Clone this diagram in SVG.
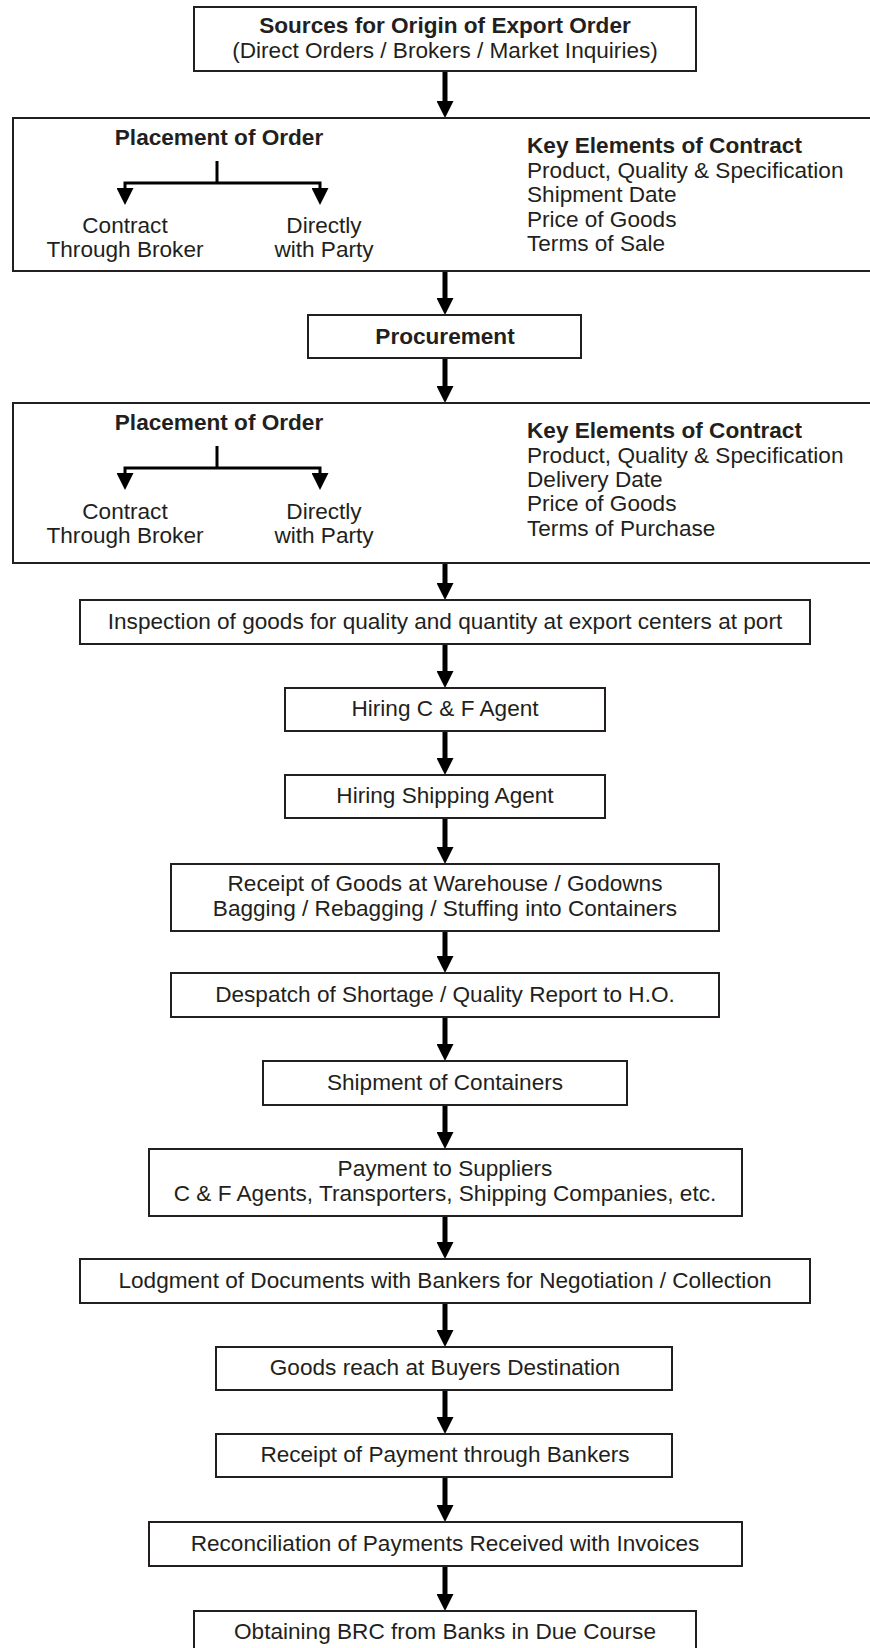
<svg xmlns="http://www.w3.org/2000/svg" width="870" height="1648" viewBox="0 0 870 1648">
<defs>
<style>
.box{fill:#fff;stroke:#231f20;stroke-width:2}
.t{font-family:"Liberation Sans",Arial,sans-serif;font-size:22.6px;fill:#231f20}
.c{text-anchor:middle}
.b{font-weight:bold}
.flow{fill:none;stroke:#000;stroke-width:5;marker-end:url(#ah)}
.sub{fill:none;stroke:#000;stroke-width:3;stroke-linejoin:miter}
.suba{marker-end:url(#sh)}
</style>
<marker id="ah" markerUnits="userSpaceOnUse" markerWidth="17" markerHeight="17" refX="5" refY="8.5" orient="auto" viewBox="0 0 17 17">
<path d="M0,0 L17,8.5 L0,17 z" fill="#000"/>
</marker>
<marker id="sh" markerUnits="userSpaceOnUse" markerWidth="17" markerHeight="17" refX="5" refY="8.5" orient="auto" viewBox="0 0 17 17">
<path d="M0,0 L17,8.5 L0,17 z" fill="#000"/>
</marker>
</defs>
<rect width="870" height="1648" fill="#fff"/>

<g id="connectors">
<path class="flow" d="M445,71 V106"/>
<path class="flow" d="M445,271 V303"/>
<path class="flow" d="M445,358 V391"/>
<path class="flow" d="M445,563 V588"/>
<path class="flow" d="M445,644 V676"/>
<path class="flow" d="M445,731 V763"/>
<path class="flow" d="M445,818 V852"/>
<path class="flow" d="M445,931 V961"/>
<path class="flow" d="M445,1017 V1049"/>
<path class="flow" d="M445,1105 V1137"/>
<path class="flow" d="M445,1216 V1247"/>
<path class="flow" d="M445,1303 V1335"/>
<path class="flow" d="M445,1390 V1422"/>
<path class="flow" d="M445,1477 V1510"/>
<path class="flow" d="M445,1566 V1599"/>
</g>

<g id="n1">
<rect class="box" x="194" y="7" width="502" height="64"/>
<text class="t c b" x="445" y="33">Sources for Origin of Export Order</text>
<text class="t c" x="445" y="58">(Direct Orders / Brokers / Market Inquiries)</text>
</g>

<g id="n2">
<rect class="box" x="13" y="118" width="890" height="153"/>
<text class="t c b" x="219" y="145">Placement of Order</text>
<path class="sub" d="M217,161 V183"/>
<path class="sub suba" d="M217,183 H125 V193"/>
<path class="sub suba" d="M217,183 H320 V193"/>
<text class="t c" x="125" y="233">Contract</text>
<text class="t c" x="125" y="257">Through Broker</text>
<text class="t c" x="324" y="233">Directly</text>
<text class="t c" x="324" y="257">with Party</text>
<text class="t b" x="527" y="153">Key Elements of Contract</text>
<text class="t" x="527" y="178">Product, Quality &amp; Specification</text>
<text class="t" x="527" y="202">Shipment Date</text>
<text class="t" x="527" y="227">Price of Goods</text>
<text class="t" x="527" y="251">Terms of Sale</text>
</g>

<g id="n3">
<rect class="box" x="308" y="315" width="273" height="43"/>
<text class="t c b" x="445" y="344">Procurement</text>
</g>

<g id="n4">
<rect class="box" x="13" y="403" width="890" height="160"/>
<text class="t c b" x="219" y="430">Placement of Order</text>
<path class="sub" d="M217,446 V468"/>
<path class="sub suba" d="M217,468 H125 V478"/>
<path class="sub suba" d="M217,468 H320 V478"/>
<text class="t c" x="125" y="519">Contract</text>
<text class="t c" x="125" y="543">Through Broker</text>
<text class="t c" x="324" y="519">Directly</text>
<text class="t c" x="324" y="543">with Party</text>
<text class="t b" x="527" y="438">Key Elements of Contract</text>
<text class="t" x="527" y="463">Product, Quality &amp; Specification</text>
<text class="t" x="527" y="487">Delivery Date</text>
<text class="t" x="527" y="511">Price of Goods</text>
<text class="t" x="527" y="536">Terms of Purchase</text>
</g>

<g id="n5">
<rect class="box" x="80" y="600" width="730" height="44"/>
<text class="t c" x="445" y="629">Inspection of goods for quality and quantity at export centers at port</text>
</g>

<g id="n6">
<rect class="box" x="285" y="688" width="320" height="43"/>
<text class="t c" x="445" y="716">Hiring C &amp; F Agent</text>
</g>

<g id="n7">
<rect class="box" x="285" y="775" width="320" height="43"/>
<text class="t c" x="445" y="803">Hiring Shipping Agent</text>
</g>

<g id="n8">
<rect class="box" x="171" y="864" width="548" height="67"/>
<text class="t c" x="445" y="891">Receipt of Goods at Warehouse / Godowns</text>
<text class="t c" x="445" y="916">Bagging / Rebagging / Stuffing into Containers</text>
</g>

<g id="n9">
<rect class="box" x="171" y="973" width="548" height="44"/>
<text class="t c" x="445" y="1002">Despatch of Shortage / Quality Report to H.O.</text>
</g>

<g id="n10">
<rect class="box" x="263" y="1061" width="364" height="44"/>
<text class="t c" x="445" y="1090">Shipment of Containers</text>
</g>

<g id="n11">
<rect class="box" x="149" y="1149" width="593" height="67"/>
<text class="t c" x="445" y="1176">Payment to Suppliers</text>
<text class="t c" x="445" y="1201">C &amp; F Agents, Transporters, Shipping Companies, etc.</text>
</g>

<g id="n12">
<rect class="box" x="80" y="1259" width="730" height="44"/>
<text class="t c" x="445" y="1288">Lodgment of Documents with Bankers for Negotiation / Collection</text>
</g>

<g id="n13">
<rect class="box" x="216" y="1347" width="456" height="43"/>
<text class="t c" x="445" y="1375">Goods reach at Buyers Destination</text>
</g>

<g id="n14">
<rect class="box" x="216" y="1434" width="456" height="43"/>
<text class="t c" x="445" y="1462">Receipt of Payment through Bankers</text>
</g>

<g id="n15">
<rect class="box" x="149" y="1522" width="593" height="44"/>
<text class="t c" x="445" y="1551">Reconciliation of Payments Received with Invoices</text>
</g>

<g id="n16">
<rect class="box" x="194" y="1611" width="502" height="60"/>
<text class="t c" x="445" y="1639">Obtaining BRC from Banks in Due Course</text>
</g>
</svg>
